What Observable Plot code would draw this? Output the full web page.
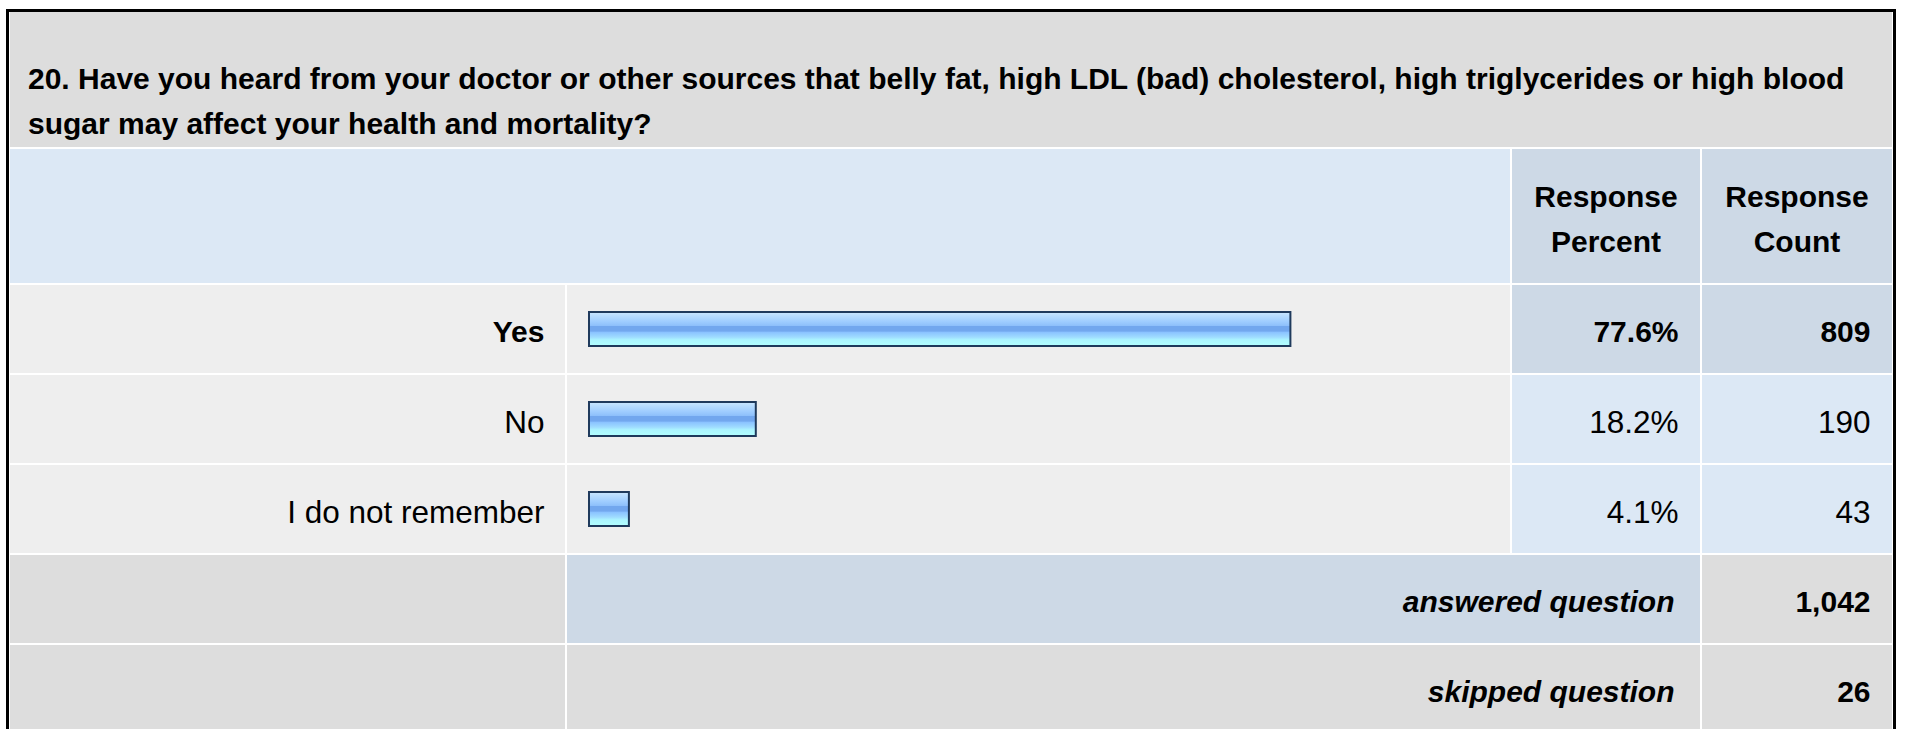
<!DOCTYPE html>
<html>
<head>
<meta charset="utf-8">
<script src="https://cdn.jsdelivr.net/npm/d3@7"></script>
<script src="https://cdn.jsdelivr.net/npm/@observablehq/plot@0.6"></script>
<style>
  html, body { margin:0; padding:0; background:#fff; width:1907px; height:729px; overflow:hidden; position:relative;
    font-family:"Liberation Sans", Arial, sans-serif; color:#000; }
  .cell { position:absolute; box-sizing:border-box; color:#000; }
  #frame { position:absolute; left:6px; top:9px; width:1884px; height:760px; border:3px solid #000; border-bottom:none;
    z-index:5; pointer-events:none; }
  #title { left:10px; top:12px; width:1882px; height:135px; background:#dddddd; font-weight:bold; font-size:30px;
    line-height:45px; padding:44px 20px 0 18px; }
  #hdrLeft { left:10px; top:149px; width:1500px; height:134px; background:#dce8f5; }
  .hdr { top:149px; height:134px; background:#cdd9e6; font-weight:bold; font-size:30px; line-height:45px;
    text-align:center; padding-top:25px; }
  #hdrPct { left:1512px; width:188px; }
  #hdrCnt { left:1702px; width:190px; }
  #chart { position:absolute; left:0; top:284px; }
</style>
</head>
<body>
<svg width="0" height="0" style="position:absolute">
  <defs>
    <linearGradient id="barGrad" x1="0" y1="0" x2="0" y2="1">
      <stop offset="0" stop-color="#cbe7ff"/>
      <stop offset="0.14" stop-color="#b3daff"/>
      <stop offset="0.28" stop-color="#9fcdff"/>
      <stop offset="0.40" stop-color="#8ec0fb"/>
      <stop offset="0.42" stop-color="#72a7ee"/>
      <stop offset="0.56" stop-color="#72a7ee"/>
      <stop offset="0.60" stop-color="#8bc3ff"/>
      <stop offset="0.74" stop-color="#9fdcff"/>
      <stop offset="0.82" stop-color="#acf5ff"/>
      <stop offset="1" stop-color="#b2ffff"/>
    </linearGradient>
  </defs>
</svg>
<div id="frame"></div>
<div id="title" class="cell"></div>
<div id="hdrLeft" class="cell"></div>
<div id="hdrPct" class="cell hdr"></div>
<div id="hdrCnt" class="cell hdr"></div>
<div id="chart"></div>
<script>
// ---------- data ----------
const question = "20. Have you heard from your doctor or other sources that belly fat, high LDL (bad) cholesterol, high triglycerides or high blood sugar may affect your health and mortality?";
const headerLabels = ["Response Percent", "Response Count"];
const choices = ["Yes", "No", "I do not remember"];
const percents = [77.6, 18.2, 4.1];
const counts = [809, 190, 43];
const summaryLabels = ["answered question", "skipped question"];
const summaryCounts = [1042, 26];

// ---------- layout ----------
const COL = {label:[10,565], bar:[567,1510], pct:[1512,1700], cnt:[1702,1892], merged:[567,1700]};
const TEXT = {label:544, pct:1678, cnt:1870, summary:1674};
const BAR_RANGE = [592, 1492];
const COLORS = {choice:"#eeeeee", summary:"#dddddd", dark:"#cdd9e6", light:"#dce8f5"};
const FONT = '"Liberation Sans", Arial, sans-serif';

document.getElementById("title").textContent = question;
document.getElementById("hdrPct").textContent = headerLabels[0];
document.getElementById("hdrCnt").textContent = headerLabels[1];

const xLin = d3.scaleLinear([0, 100], BAR_RANGE);
const px = p => xLin.invert(p);

const rows = [...choices, ...summaryLabels];
const topIdx = percents.indexOf(d3.max(percents));
const choiceData = choices.map((c, i) => ({row:c, pct:percents[i], count:counts[i], top:i === topIdx}));
const summaryData = summaryLabels.map((s, i) => ({row:s, count:summaryCounts[i], first:i === 0}));

const cells = [];
for (const d of choiceData) {
  cells.push({row:d.row, c:COL.label, fill:COLORS.choice});
  cells.push({row:d.row, c:COL.bar, fill:COLORS.choice});
  cells.push({row:d.row, c:COL.pct, fill:d.top ? COLORS.dark : COLORS.light});
  cells.push({row:d.row, c:COL.cnt, fill:d.top ? COLORS.dark : COLORS.light});
}
for (const d of summaryData) {
  cells.push({row:d.row, c:COL.label, fill:COLORS.summary});
  cells.push({row:d.row, c:COL.merged, fill:d.first ? COLORS.dark : COLORS.summary});
  cells.push({row:d.row, c:COL.cnt, fill:COLORS.summary});
}

const fmtPct = d => d3.format(".1f")(d) + "%";
const fmtCnt = d3.format(",");
const bold = {y:"row", fontSize:30, fill:"#000", textAnchor:"end", dy:3, fontFamily:FONT, fontWeight:"bold"};
const reg = {y:"row", fontSize:31.5, fill:"#000", textAnchor:"end", dy:3, fontFamily:FONT};
const topRows = choiceData.filter(d => d.top);
const otherRows = choiceData.filter(d => !d.top);

const chart = Plot.plot({
  width:1907, height:445, margin:0,
  x:{domain:[0, 100], range:BAR_RANGE, axis:null},
  y:{type:"band", domain:rows, range:[0, 450], paddingInner:2/90, paddingOuter:1/90, axis:null},
  color:{type:"identity"},
  style:{background:"transparent", fontFamily:FONT, fontSize:"30px", color:"#000", overflow:"hidden"},
  marks:[
    Plot.barX(cells, {x1:d => px(d.c[0]), x2:d => px(d.c[1]), y:"row", fill:"fill"}),
    Plot.barX(choiceData, {x1:0, x2:"pct", y:"row", fill:"url(#barGrad)", stroke:"#1f3a5c", strokeWidth:2,
      insetTop:27, insetBottom:27, insetLeft:-3}),
    Plot.text(topRows, {...bold, x:px(TEXT.label), text:"row"}),
    Plot.text(otherRows, {...reg, x:px(TEXT.label), text:"row"}),
    Plot.text(topRows, {...bold, x:px(TEXT.pct), text:d => fmtPct(d.pct)}),
    Plot.text(otherRows, {...reg, x:px(TEXT.pct), text:d => fmtPct(d.pct)}),
    Plot.text(topRows, {...bold, x:px(TEXT.cnt), text:d => fmtCnt(d.count)}),
    Plot.text(otherRows, {...reg, x:px(TEXT.cnt), text:d => fmtCnt(d.count)}),
    Plot.text(summaryData, {...bold, x:px(TEXT.summary), text:"row", fontStyle:"italic"}),
    Plot.text(summaryData, {...bold, x:px(TEXT.cnt), text:d => fmtCnt(d.count)})
  ]
});
document.getElementById("chart").appendChild(chart);
</script>
</body>
</html>
